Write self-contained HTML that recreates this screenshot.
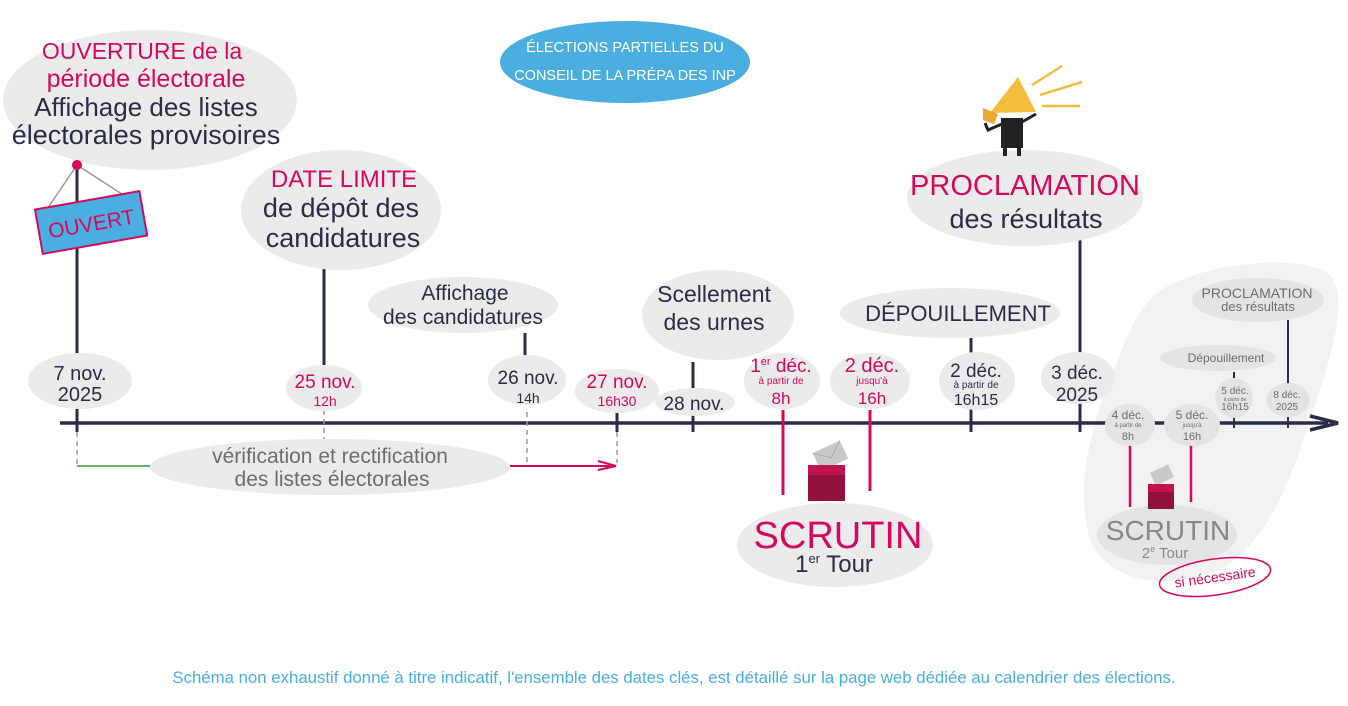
<!DOCTYPE html>
<html><head><meta charset="utf-8"><style>
html,body{margin:0;padding:0;background:#fff}
svg{display:block}
text{font-family:"Liberation Sans",sans-serif;text-anchor:middle}
.d{fill:#2b2d48}.p{fill:#d4095d}.g{fill:#6d6d6d}.b{fill:#ebebeb}
</style></head><body>
<svg width="1348" height="706" viewBox="0 0 1348 706" xmlns="http://www.w3.org/2000/svg">
<path d="M1150,300 C1180,265 1300,250 1330,275 C1350,300 1330,360 1310,420 C1290,480 1270,540 1220,570 C1170,590 1110,585 1090,540 C1075,490 1090,430 1110,380 C1125,340 1135,315 1150,300Z" fill="#f2f2f2"/>
<ellipse cx="625" cy="62" rx="125" ry="41" fill="#4aaee0"/>
<text x="625" y="52" font-size="14.5" fill="#fff">ÉLECTIONS PARTIELLES DU</text>
<text x="625" y="80" font-size="14.5" fill="#fff">CONSEIL DE LA PRÉPA DES INP</text>

<line x1="60" y1="423" x2="1328" y2="423" stroke="#2b2d48" stroke-width="3.5"/>
<path d="M1310,416 L1338,423 L1310,430" fill="none" stroke="#2b2d48" stroke-width="3.5"/>
<g stroke="#2b2d48" stroke-width="3">
<line x1="77" y1="165" x2="77" y2="432"/>
<line x1="324" y1="268" x2="324" y2="372"/>
<line x1="525" y1="333" x2="525" y2="362"/>
<line x1="617" y1="410" x2="617" y2="432"/>
<line x1="693" y1="362" x2="693" y2="432"/>
<line x1="971" y1="338" x2="971" y2="432"/>
<line x1="1080" y1="240" x2="1080" y2="432"/>
<line x1="1288" y1="320" x2="1288" y2="428" stroke-width="2"/>
<line x1="1234" y1="372" x2="1234" y2="428" stroke-width="2"/>
</g>
<g stroke="#999" stroke-width="1.5" stroke-dasharray="5,4">
<line x1="77" y1="432" x2="77" y2="464"/>
<line x1="324" y1="410" x2="324" y2="445"/>
<line x1="527" y1="412" x2="527" y2="466"/>
<line x1="617" y1="432" x2="617" y2="463"/>
</g>
<line x1="77" y1="466" x2="160" y2="466" stroke="#5cb85c" stroke-width="2"/>
<line x1="510" y1="466" x2="612" y2="466" stroke="#d4095d" stroke-width="2"/>
<path d="M598,461 L616,466 L598,470" fill="none" stroke="#d4095d" stroke-width="2"/>

<ellipse cx="150" cy="100" rx="147" ry="70" class="b"/>
<text x="142" y="59" font-size="23" class="p">OUVERTURE de la</text>
<text x="146" y="87" font-size="25" class="p">période électorale</text>
<text x="146" y="116" font-size="26" class="d">Affichage des listes</text>
<text x="146" y="144" font-size="27" class="d">électorales provisoires</text>
<line x1="77" y1="165" x2="43" y2="215" stroke="#999" stroke-width="1.5"/>
<line x1="77" y1="165" x2="125" y2="196" stroke="#999" stroke-width="1.5"/>
<g transform="rotate(-10 91 222)">
<rect x="38" y="200" width="106" height="45" fill="#4aaee0" stroke="#d4095d" stroke-width="2"/>
<text x="91" y="231" font-size="21" class="p">OUVERT</text>
</g>
<circle cx="77" cy="165" r="5" fill="#d4095d"/>

<ellipse cx="341" cy="210" rx="100" ry="60" class="b"/>
<text x="344" y="187" font-size="24" class="p">DATE LIMITE</text>
<text x="341" y="217" font-size="27" class="d">de dépôt des</text>
<text x="343" y="247" font-size="27" class="d">candidatures</text>

<ellipse cx="80" cy="381" rx="52" ry="28" class="b"/>
<text x="80" y="380" font-size="20" class="d">7 nov.</text>
<text x="80" y="401" font-size="20" class="d">2025</text>
<ellipse cx="324" cy="388" rx="38" ry="23" class="b"/>
<text x="325" y="388" font-size="19" class="p">25 nov.</text>
<text x="325" y="406" font-size="14" class="p">12h</text>
<ellipse cx="463" cy="305" rx="95" ry="28" class="b"/>
<text x="465" y="300" font-size="21" class="d">Affichage</text>
<text x="463" y="324" font-size="21" class="d">des candidatures</text>
<ellipse cx="527" cy="380" rx="39" ry="25" class="b"/>
<text x="528" y="384" font-size="19" class="d">26 nov.</text>
<text x="528" y="403" font-size="14" class="d">14h</text>
<ellipse cx="617" cy="391" rx="42" ry="22" class="b"/>
<text x="617" y="388" font-size="19" class="p">27 nov.</text>
<text x="617" y="406" font-size="14" class="p">16h30</text>

<ellipse cx="330" cy="467" rx="180" ry="28" class="b"/>
<text x="330" y="463" font-size="21" class="g">vérification et rectification</text>
<text x="332" y="486" font-size="21" class="g">des listes électorales</text>

<ellipse cx="718" cy="315" rx="76" ry="45" class="b"/>
<text x="714" y="302" font-size="23" class="d">Scellement</text>
<text x="714" y="330" font-size="23" class="d">des urnes</text>
<ellipse cx="695" cy="402" rx="40" ry="14" class="b"/>
<text x="694" y="410" font-size="19" class="d">28 nov.</text>

<line x1="783" y1="410" x2="783" y2="495" stroke="#d4095d" stroke-width="3"/>
<line x1="870" y1="410" x2="870" y2="491" stroke="#d4095d" stroke-width="3"/>
<ellipse cx="782" cy="381" rx="38" ry="28" class="b"/>
<text x="781" y="372" font-size="19" class="p">1<tspan font-size="11" dy="-7">er</tspan><tspan dy="7"> déc.</tspan></text>
<text x="781" y="384" font-size="10" class="p">à partir de</text>
<text x="781" y="404" font-size="17" class="p">8h</text>
<ellipse cx="870" cy="381" rx="40" ry="28" class="b"/>
<text x="872" y="372" font-size="20" class="p">2 déc.</text>
<text x="872" y="384" font-size="10" class="p">jusqu'à</text>
<text x="872" y="404" font-size="17" class="p">16h</text>
<ellipse cx="835" cy="545" rx="98" ry="42" class="b"/>
<g transform="rotate(-25 830 455)"><rect x="815" y="446" width="30" height="20" fill="#c9c9c9"/><path d="M815,446 L830,458 L845,446" fill="none" stroke="#aaa"/></g>
<rect x="808" y="465" width="37" height="10" fill="#c0134f"/>
<rect x="808" y="475" width="37" height="26" fill="#93123d"/>
<text x="838" y="548" font-size="38" class="p">SCRUTIN</text>
<text x="834" y="572" font-size="24" class="d">1<tspan font-size="13" dy="-9">er</tspan><tspan dy="9"> Tour</tspan></text>

<ellipse cx="950" cy="313" rx="110" ry="25" class="b"/>
<text x="958" y="321" font-size="22" class="d">DÉPOUILLEMENT</text>
<ellipse cx="977" cy="381" rx="38" ry="29" class="b"/>
<text x="976" y="377" font-size="19" class="d">2 déc.</text>
<text x="976" y="388" font-size="10" class="d">à partir de</text>
<text x="976" y="405" font-size="16" class="d">16h15</text>

<ellipse cx="1025" cy="198" rx="118" ry="48" class="b"/>
<text x="1025" y="195" font-size="29" class="p">PROCLAMATION</text>
<text x="1026" y="228" font-size="27" class="d">des résultats</text>
<ellipse cx="1078" cy="378" rx="37" ry="26" class="b"/>
<text x="1077" y="379" font-size="19" class="d">3 déc.</text>
<text x="1077" y="401" font-size="19" class="d">2025</text>
<rect x="1001" y="118" width="22" height="30" fill="#222"/>
<path d="M1002,124 L988,130 L985,123 M1022,122 L1036,114" stroke="#222" stroke-width="3" fill="none"/>
<path d="M1005,146 L1005,156 M1019,146 L1019,156" stroke="#222" stroke-width="4"/>
<path d="M990,113 L1018,77 L1036,112 Z" fill="#f5bd3c"/>
<path d="M983,108 L998,114 L994,124 L983,120 Z" fill="#e8a930"/>
<path d="M1032,85 L1062,66 M1040,95 L1082,82 M1042,106 L1080,106" stroke="#f5bd3c" stroke-width="2.5"/>

<ellipse cx="1258" cy="300" rx="66" ry="22" fill="#e4e4e4"/>
<text x="1257" y="298" font-size="14" class="g">PROCLAMATION</text>
<text x="1258" y="311" font-size="13" class="g">des résultats</text>
<ellipse cx="1218" cy="358" rx="58" ry="13" fill="#e4e4e4"/>
<text x="1226" y="362" font-size="12" class="g">Dépouillement</text>
<ellipse cx="1234" cy="398" rx="19" ry="20" fill="#e4e4e4"/>
<text x="1235" y="394" font-size="10" class="g">5 déc.</text>
<text x="1235" y="401" font-size="5" class="g">à partir de</text>
<text x="1235" y="410" font-size="10" class="g">16h15</text>
<ellipse cx="1288" cy="400" rx="22" ry="17" fill="#e4e4e4"/>
<text x="1287" y="398" font-size="10" class="g">8 déc.</text>
<text x="1287" y="410" font-size="10" class="g">2025</text>
<line x1="1130" y1="445" x2="1130" y2="507" stroke="#d4095d" stroke-width="2.5"/>
<line x1="1191" y1="445" x2="1191" y2="502" stroke="#d4095d" stroke-width="2.5"/>
<ellipse cx="1130" cy="425" rx="25" ry="21" fill="#e4e4e4"/>
<text x="1128" y="419" font-size="12" class="g">4 déc.</text>
<text x="1128" y="427" font-size="6" class="g">à partir de</text>
<text x="1128" y="440" font-size="11" class="g">8h</text>
<ellipse cx="1192" cy="425" rx="28" ry="21" fill="#e4e4e4"/>
<text x="1192" y="419" font-size="12" class="g">5 déc.</text>
<text x="1192" y="427" font-size="6" class="g">jusqu'à</text>
<text x="1192" y="440" font-size="11" class="g">16h</text>
<ellipse cx="1167" cy="535" rx="70" ry="30" fill="#e4e4e4"/>
<g transform="rotate(-25 1162 475)"><rect x="1152" y="468" width="20" height="14" fill="#c9c9c9"/></g>
<rect x="1148" y="484" width="26" height="8" fill="#c0134f"/>
<rect x="1148" y="492" width="26" height="17" fill="#93123d"/>
<text x="1168" y="540" font-size="28" fill="#888">SCRUTIN</text>
<text x="1165" y="558" font-size="15" fill="#888">2<tspan font-size="9" dy="-6">e</tspan><tspan dy="6"> Tour</tspan></text>
<ellipse cx="1215" cy="577" rx="56" ry="18" fill="none" stroke="#d4095d" stroke-width="1.5" transform="rotate(-8 1215 577)"/>
<text x="1215" y="582" font-size="14" class="p" transform="rotate(-8 1215 577)">si nécessaire</text>

<text x="674" y="683" font-size="16.8" fill="#4aaee0">Schéma non exhaustif donné à titre indicatif, l'ensemble des dates clés, est détaillé sur la page web dédiée au calendrier des élections.</text>
</svg>
</body></html>
